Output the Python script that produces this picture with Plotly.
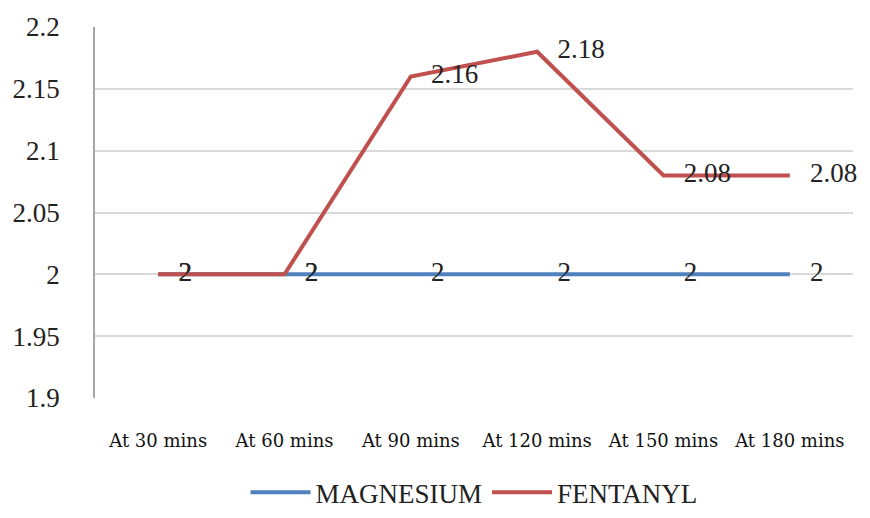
import plotly.graph_objects as go

times = ["At 30 mins", "At 60 mins", "At 90 mins", "At 120 mins", "At 150 mins", "At 180 mins"]
magnesium = [2, 2, 2, 2, 2, 2]
fentanyl = [2, 2, 2.16, 2.18, 2.08, 2.08]

BLUE = "#4F81BD"
RED = "#C0504D"
SERIF = "Liberation Serif"

fig = go.Figure()

fig.add_trace(go.Scatter(
    x=times, y=magnesium, name="MAGNESIUM",
    mode="lines+text", text=[f"   {v:g}" for v in magnesium],
    textposition="middle right", cliponaxis=False,
    textfont=dict(family=SERIF, size=27, color="#222"),
    line=dict(color=BLUE, width=4),
))
fig.add_trace(go.Scatter(
    x=times, y=fentanyl, name="FENTANYL",
    mode="lines+text", text=[f"   {v:g}" for v in fentanyl],
    textposition="middle right", cliponaxis=False,
    textfont=dict(family=SERIF, size=27, color="#222"),
    line=dict(color=RED, width=4),
))

fig.update_xaxes(
    range=[-0.5, 5.5], showgrid=False, showline=False, zeroline=False,
    tickfont=dict(family="DejaVu Serif", size=18, color="#111"),
    ticks="outside", ticklen=26, tickcolor="rgba(0,0,0,0)", automargin=False,
)
fig.update_yaxes(
    range=[1.9, 2.2], dtick=0.05, showgrid=True, gridcolor="#d9d9d9", gridwidth=1.5,
    showline=True, linecolor="#a6a6a6", linewidth=1.5, zeroline=False,
    tickfont=dict(family=SERIF, size=27, color="#222"),
    tickformat=".3~g", ticks="outside", ticklen=28, tickcolor="rgba(0,0,0,0)",
    automargin=False,
)

# page body has an 8px margin, so keep the figure inside the 870x518 window
fig.update_layout(
    width=854, height=502,
    margin=dict(l=87, r=9, t=19, b=112, autoexpand=False),
    plot_bgcolor="white", paper_bgcolor="white",
    legend=dict(orientation="h", x=0.5, xanchor="center", y=-0.255, yanchor="middle",
                font=dict(family=SERIF, size=27, color="#222"),
                itemwidth=60),
    showlegend=True,
)

fig.write_html("out.html")
